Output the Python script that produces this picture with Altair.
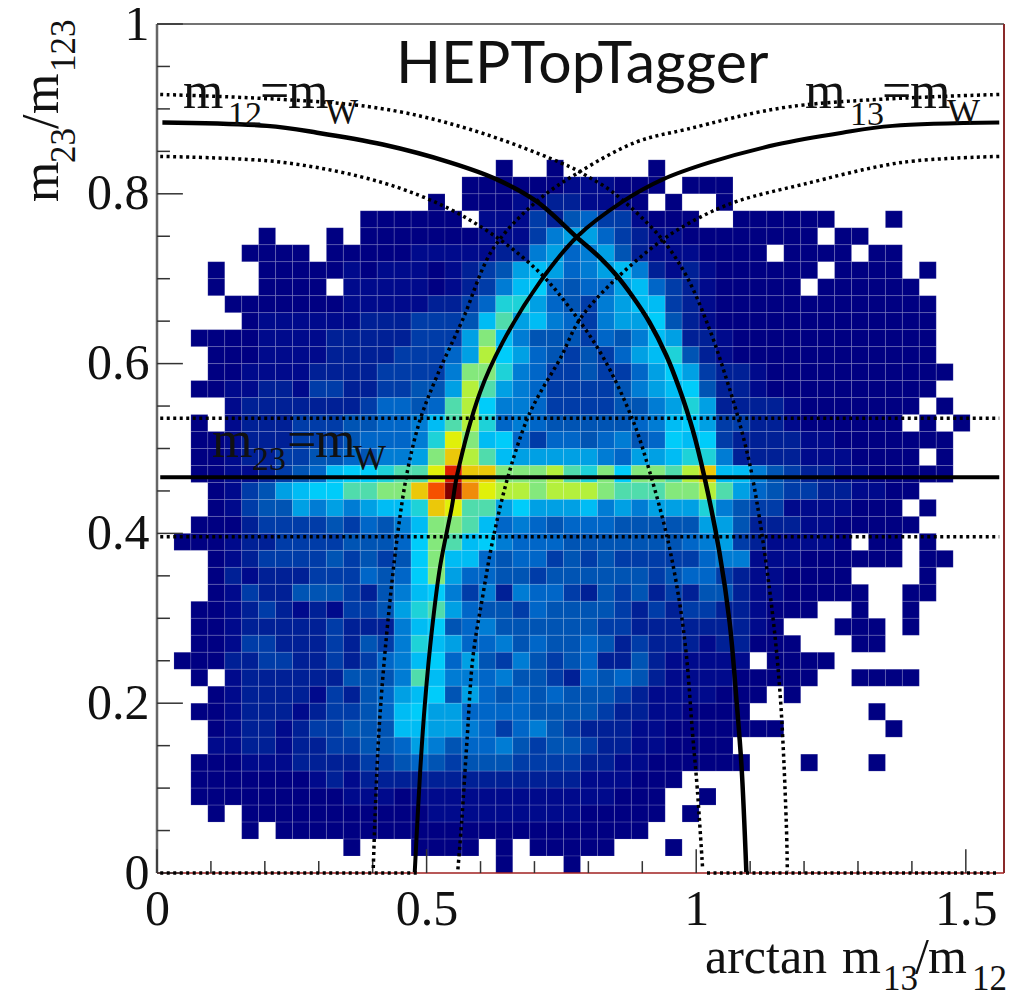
import altair as alt
import pandas as pd

# Heatmap: {row from top: (first filled column, levels)}; 0 = empty bin
N = 50
HEAT = {
 8: (20, [1,0,0,1,0,0,0,0,0,1]),
 9: (18, [1,1,1,1,1,1,2,2,2,1,1,1,0,1,1,1]),
 10: (16, [1,0,1,1,1,2,2,3,3,2,2,2,1,0,1,0,0,1]),
 11: (12, [1,1,1,1,1,1,0,2,2,2,4,3,5,6,4,4,2,1,1,1,0,0,1,1,1,1,1,1,0,0,0,1]),
 12: (6, [1,0,0,0,1,0,1,1,1,1,1,1,1,2,2,2,4,7,8,8,6,4,3,2,2,1,1,1,1,1,1,1,1,0,1,1]),
 13: (5, [1,1,1,1,0,1,1,1,1,1,2,2,2,2,2,3,3,7,8,6,7,8,5,3,2,2,2,1,1,1,1,0,1,1,1,1,0,1,1]),
 14: (3, [1,0,0,1,1,1,1,1,2,1,2,2,2,1,2,3,4,5,8,9,8,6,7,8,9,7,3,2,3,2,1,1,1,1,1,1,0,1,1,1,1,0,1]),
 15: (3, [1,0,0,1,1,1,1,0,2,2,2,2,2,1,2,3,4,7,9,10,6,5,6,6,8,9,6,4,3,2,1,1,1,1,1,0,1,1,1,1,1,1]),
 16: (4, [1,1,1,1,1,1,1,2,2,2,2,2,3,3,4,6,11,11,8,6,5,4,7,8,9,9,4,3,2,1,1,1,1,1,1,1,1,1,1,1,1,1]),
 17: (5, [1,2,2,2,2,2,2,3,3,3,4,4,4,5,9,12,8,9,7,6,4,7,8,8,10,5,3,2,1,1,1,1,1,1,1,1,1,1,1,1,1]),
 18: (2, [1,1,1,1,2,2,2,2,3,3,3,3,3,4,4,4,8,13,9,7,5,5,5,4,6,5,7,9,8,3,3,2,1,1,1,1,1,1,1,1,1,1,1,1]),
 19: (3, [1,1,1,2,2,2,2,3,3,3,3,4,4,4,6,8,14,10,8,6,5,4,5,4,6,8,9,11,5,3,2,1,1,1,1,1,1,1,1,1,1,1,1]),
 20: (3, [1,1,2,2,2,2,3,3,3,3,4,4,4,4,7,13,13,11,7,6,4,4,5,4,4,6,8,10,8,4,3,3,2,1,1,1,1,1,1,1,1,1,1,1]),
 21: (2, [1,1,2,2,3,3,2,4,4,3,3,4,4,5,5,8,14,12,8,7,6,4,4,4,4,5,7,8,9,10,5,3,3,2,1,1,1,1,1,1,1,1,1,1]),
 22: (4, [2,3,3,3,3,3,3,3,4,6,6,5,6,12,14,10,7,7,6,4,4,4,4,5,5,7,8,11,8,3,3,3,3,2,1,1,1,1,1,1,1,0,1]),
 23: (2, [1,0,2,3,3,3,4,4,4,5,5,6,6,7,9,12,14,11,6,7,6,5,5,5,5,5,6,7,9,10,8,4,4,3,3,2,1,1,1,1,1,1,0,1,0,1]),
 24: (2, [1,1,2,3,3,3,4,4,4,5,6,6,6,7,11,15,13,9,10,6,4,6,6,5,6,7,5,6,10,9,10,4,3,3,3,3,2,2,1,1,1,1,1,1,1]),
 25: (2, [1,1,2,3,3,4,4,5,5,6,5,7,7,8,13,16,14,12,9,8,8,8,8,8,7,6,8,8,9,11,11,7,3,3,3,3,2,2,2,1,1,1,1,0,1]),
 26: (2, [1,1,2,2,3,4,5,6,9,10,10,11,12,12,15,19,16,16,13,13,13,14,12,11,13,10,13,13,12,14,16,9,9,7,5,4,3,3,2,2,1,1,1,1,1]),
 27: (3, [1,2,4,5,8,9,10,10,12,12,13,13,16,18,20,17,15,14,14,13,14,14,14,13,12,12,12,13,13,14,12,8,6,5,4,4,3,3,2,2,1,1]),
 28: (3, [1,2,4,5,5,8,7,8,7,8,9,9,11,16,15,12,12,8,10,8,8,8,9,7,8,7,8,8,8,11,7,5,4,4,2,2,2,2,1,1,1,0,1]),
 29: (2, [1,1,1,3,4,4,4,4,5,4,6,5,7,9,13,13,12,9,6,7,6,5,6,6,6,5,5,5,5,5,8,8,5,3,3,3,2,2,1,1,1,1,1]),
 30: (1, [1,1,1,2,3,3,4,4,4,4,5,5,5,6,10,13,12,9,10,7,6,6,6,5,5,5,5,5,5,5,6,7,8,4,3,2,2,2,2,1,0,1,1,0,1]),
 31: (3, [1,2,3,4,4,4,4,5,4,5,4,5,10,13,9,9,6,5,6,6,4,5,4,5,4,4,4,4,4,6,7,7,2,2,2,1,1,1,1,1,1,0,1,1]),
 32: (3, [1,3,2,3,3,3,4,4,4,6,5,6,10,13,8,6,6,5,5,4,5,5,5,5,5,5,4,5,6,6,4,3,2,2,1,1,1,1,0,0,0,0,1]),
 33: (3, [1,2,4,3,3,5,5,5,4,3,5,7,9,10,7,4,7,3,7,6,6,4,3,5,4,5,3,4,3,5,5,3,2,2,1,1,1,1,1,0,0,1,1]),
 34: (2, [1,1,2,3,4,3,2,3,2,4,4,5,8,11,12,8,6,5,5,4,6,5,5,5,5,4,3,4,3,4,4,3,3,2,1,1,1,0,0,1,0,0,1]),
 35: (2, [1,1,2,3,3,3,3,3,4,3,3,3,7,9,10,5,6,7,5,5,5,5,5,5,4,4,3,3,3,3,3,3,3,2,1,0,0,0,1,1,1,0,1]),
 36: (2, [1,1,2,4,4,3,3,3,4,3,5,4,7,11,9,8,6,6,7,5,6,5,5,6,5,3,4,3,3,3,2,3,3,1,1,1,0,0,0,1,1]),
 37: (1, [1,1,1,3,3,4,4,3,3,4,3,4,6,7,9,10,6,8,5,4,7,5,4,5,6,3,3,5,3,2,2,2,2,2,0,1,1,1,1]),
 38: (2, [1,0,2,3,3,3,3,3,3,5,5,5,7,12,9,7,7,6,7,5,5,4,3,6,5,6,5,3,2,2,2,2,1,1,1,1,1,0,0,1,1,1,1]),
 39: (3, [1,2,3,3,3,3,2,4,3,5,6,8,9,10,5,8,6,5,6,5,6,5,5,5,4,3,2,2,2,2,1,1,1,0,1]),
 40: (2, [1,1,2,3,3,3,2,3,4,4,5,6,9,10,8,8,6,6,6,6,5,5,5,5,4,3,3,2,2,1,1,1,1,0,0,0,0,0,0,0,1]),
 41: (3, [1,2,3,3,2,3,4,4,5,5,5,9,9,8,8,7,6,4,6,7,5,4,3,3,3,2,2,1,1,1,1,1,1,1,0,0,0,0,0,0,1]),
 42: (3, [2,2,3,3,2,3,3,4,4,5,5,6,8,7,5,6,6,7,5,4,5,5,4,3,3,2,2,1,1,1,1]),
 43: (2, [1,1,1,2,2,2,3,3,3,3,4,4,5,6,5,4,5,5,5,4,4,4,4,3,3,2,2,1,1,1,1,1,1,0,0,0,1,0,0,0,1]),
 44: (2, [1,1,1,1,1,1,1,2,3,2,3,3,3,3,3,3,3,3,3,3,3,3,3,2,2,2,1,1,1]),
 45: (2, [1,1,1,1,1,1,1,1,1,2,2,2,1,2,2,2,2,2,2,2,2,2,2,2,2,1,1,1,0,0,1]),
 46: (3, [1,0,1,1,1,1,1,1,1,1,1,1,1,2,2,2,2,2,2,2,2,2,1,1,1,1,1,0,1]),
 47: (5, [1,0,1,1,1,1,1,1,1,1,1,1,1,1,1,1,1,1,1,1,1,1,1,1]),
 48: (11, [1,0,0,0,1,1,1,1,0,1,0,1,1,1,1,1,0,0,0,1]),
 49: (20, [1,0,0,0,1]),
}
LEVELS = list(range(1, 21))
COLORS = ["#000082","#000a8c","#002096","#003ca8","#0054b4","#0066c8","#007cd4","#00a0e4",
          "#00bcf4","#00ccfa","#1ed2d8","#50dcac","#84e87c","#b4f03c","#e0f00a","#ebc80a",
          "#f08c0a","#f55000","#dc1e00","#820000"]

X_MAX = 1.5708
Y_MAJOR = [0, 0.2, 0.4, 0.6, 0.8, 1.0]
Y_MINOR = [0.05,0.1,0.15,0.25,0.3,0.35,0.45,0.5,0.55,0.65,0.7,0.75,0.85,0.9,0.95]
X_MAJOR = [0, 0.5, 1.0, 1.5]
X_MINOR = [0.1,0.2,0.3,0.4,0.6,0.7,0.8,0.9,1.1,1.2,1.3,1.4]

# Curves
M12_X = [.010,.204,.297,.419,.543,.630,.704,.780,.821,.852,.882,.913,.945,.969,.993,1.015,1.043,1.062,1.075,1.084,1.093]
M12_Y = [.884,.880,.872,.858,.837,.817,.791,.748,.725,.704,.679,.649,.609,.570,.523,.467,.378,.295,.201,.126,.001]
M13_X = [1.562,1.364,1.271,1.149,1.025,.938,.864,.780,.710,.641,.599,.556,.547,.525,.510,.497,.488,.478]
M13_Y = [.884,.880,.872,.858,.837,.817,.791,.750,.696,.625,.566,.467,.432,.361,.287,.201,.119,.001]
M12_UP_X = [.006,.389,.580,.765,.797,.845,.932,.982,1.025,1.056,1.080,1.104,1.136,1.155,1.167,1.169]
M12_UP_Y = [.917,.903,.876,.832,.821,.802,.750,.703,.640,.582,.531,.467,.334,.216,.060,.002]
M12_LO_X = [.006,.234,.419,.543,.636,.710,.765,.826,.882,.914,.947,.969,.982,.993,1.002,1.012]
M12_LO_Y = [.844,.837,.813,.782,.746,.707,.666,.609,.534,.472,.393,.319,.255,.166,.099,.004]
M13_UP_X = [1.562,1.178,.982,.889,.784,.704,.623,.567,.519,.488,.464,.445,.428,.417,.410,.404,.401]
M13_UP_Y = [.917,.903,.876,.861,.826,.791,.735,.652,.585,.534,.472,.393,.295,.216,.149,.060,.004]
M13_LO_X = [1.562,1.382,1.197,1.075,1.006,.938,.845,.784,.747,.710,.686,.651,.623,.604,.586,.575,.565,.558]
M13_LO_Y = [.844,.837,.811,.791,.772,.746,.696,.652,.605,.565,.534,.467,.393,.326,.255,.157,.060,.004]
M23_Y, M23_UP_Y, M23_LO_Y = .466, .5355, .396
LINE_X0, LINE_X1 = .006, 1.562

W, H = 847, 849
cells = []
for r, (start, vals) in HEAT.items():
    for i, v in enumerate(vals):
        if v:
            c = start + i
            cells.append(dict(x0=c*X_MAX/N, x1=(c+1)*X_MAX/N, y0=1-(r+1)/N, y1=1-r/N, level=v))
cells = pd.DataFrame(cells)

SERIF = "Liberation Serif"
xs = alt.Scale(domain=[0, X_MAX], nice=False, zero=False)
ys = alt.Scale(domain=[0, 1], nice=False, zero=False)
AX = alt.Axis(values=X_MAJOR, format=".1~f", ticks=False, grid=False, domain=False, title=None,
              labelFont=SERIF, labelFontSize=50, labelColor="#111", labelPadding=11,
              labelFlush=False, labelOverlap=False, labelBound=False)
AY = alt.Axis(values=Y_MAJOR, format=".1~f", ticks=False, grid=False, domain=False, title=None,
              labelFont=SERIF, labelFontSize=50, labelColor="#111", labelPadding=8,
              labelFlush=False, labelOverlap=False, labelBound=False)

def ex(f): return alt.X(f, scale=xs, axis=AX)
def ey(f): return alt.Y(f, scale=ys, axis=AY)

heat = alt.Chart(cells).mark_rect(stroke="white", strokeOpacity=0.12, strokeWidth=1).encode(
    x=ex("x0:Q"), x2="x1:Q", y=ey("y0:Q"), y2="y1:Q",
    color=alt.Color("level:Q", scale=alt.Scale(domain=LEVELS, range=COLORS), legend=None),
)

def curve(px, py, width, dash=None):
    df = pd.DataFrame({"x": px, "y": py, "i": range(len(px))})
    kw = dict(color="black", strokeWidth=width, interpolate="catmull-rom")
    if dash:
        kw["strokeDash"] = dash
    return alt.Chart(df).mark_line(**kw).encode(x=ex("x:Q"), y=ey("y:Q"), order="i:Q")

def hline(x0, x1, y, width, color="black", dash=None):
    df = pd.DataFrame({"x": [x0], "x2": [x1], "y": [y]})
    kw = dict(color=color, strokeWidth=width)
    if dash:
        kw["strokeDash"] = dash
    return alt.Chart(df).mark_rule(**kw).encode(x=ex("x:Q"), x2="x2:Q", y=ey("y:Q"))

def vline(x, y0, y1, width, color="black"):
    df = pd.DataFrame({"x": [x], "y": [y0], "y2": [y1]})
    return alt.Chart(df).mark_rule(color=color, strokeWidth=width).encode(x=ex("x:Q"), y=ey("y:Q"), y2="y2:Q")

def label(t, px, py, size, font=SERIF, angle=0, color="#111"):
    return alt.Chart(pd.DataFrame({"a": [0]})).mark_text(
        text=t, font=font, fontSize=size, align="left", baseline="alphabetic", angle=angle, color=color
    ).encode(x=alt.value(px - 157), y=alt.value(py - 24))

ticks = []
for v in Y_MAJOR:
    ticks.append(hline(0, 0.048, v, 1.5, "#333"))
for v in Y_MINOR:
    ticks.append(hline(0, 0.024, v, 1.5, "#333"))
for v in X_MAJOR:
    ticks.append(vline(v, 0, 0.028, 1.5, "#333"))
for v in X_MINOR:
    ticks.append(vline(v, 0, 0.014, 1.5, "#333"))

DOT = [3, 3.5]
frame = [
    hline(0, X_MAX, 1, 1.5, "#444"),
    vline(0, 0, 1, 2.5, "#666"),
    vline(X_MAX, 0, 1, 2, "#8a2a2a"),
    hline(0, X_MAX, 0, 1.5, "#a02020"),
]
lines = [
    curve(M12_X, M12_Y, 4.5), curve(M13_X, M13_Y, 4),
    curve(M12_UP_X, M12_UP_Y, 3.5, DOT), curve(M12_LO_X, M12_LO_Y, 3.5, DOT),
    curve(M13_UP_X, M13_UP_Y, 3.5, DOT), curve(M13_LO_X, M13_LO_Y, 3.5, DOT),
    hline(LINE_X0, LINE_X1, M23_Y, 4),
    hline(LINE_X0, LINE_X1, M23_UP_Y, 3.5, dash=DOT),
    hline(LINE_X0, LINE_X1, M23_LO_Y, 3.5, dash=DOT),
    hline(LINE_X0, .482, 0, 3.5, dash=DOT),
    hline(1.02, LINE_X1, 0, 3.5, dash=DOT),
]
texts = [
    label("HEPTopTagger", 396, 83, 59, font="Lato", color="#111"),
    label("m", 183, 108, 52), label("12", 228, 125, 34), label("=", 260, 108, 52),
    label("m", 288, 108, 52), label("W", 325, 124, 35),
    label("m", 805, 108, 52), label("13", 850, 125, 34), label("=", 882, 108, 52),
    label("m", 910, 108, 52), label("W", 947, 124, 35),
    label("m", 212, 457, 52), label("23", 252, 470, 34), label("=", 287, 457, 52),
    label("m", 315, 457, 52), label("W", 353, 470, 35),
    label("m", 58, 202, 52, angle=270), label("23", 75, 163, 35, angle=270),
    label("/", 58, 129, 52, angle=270), label("m", 58, 114, 52, angle=270), label("123", 75, 72, 35, angle=270),
    label("arctan", 705, 973, 50), label("m", 842, 973, 50), label("13", 883, 990, 35),
    label("/", 915, 973, 50), label("m", 928, 973, 50), label("12", 972, 990, 35),
]

chart = alt.layer(heat, *frame, *ticks, *lines, *texts).properties(
    width=W, height=H,
    padding={"left": 149, "top": 16, "right": 8, "bottom": 118},
    autosize=alt.AutoSizeParams(type="none"),
).configure_view(stroke=None)

chart.save("out.html", embed_options={"renderer": "svg", "actions": False})
